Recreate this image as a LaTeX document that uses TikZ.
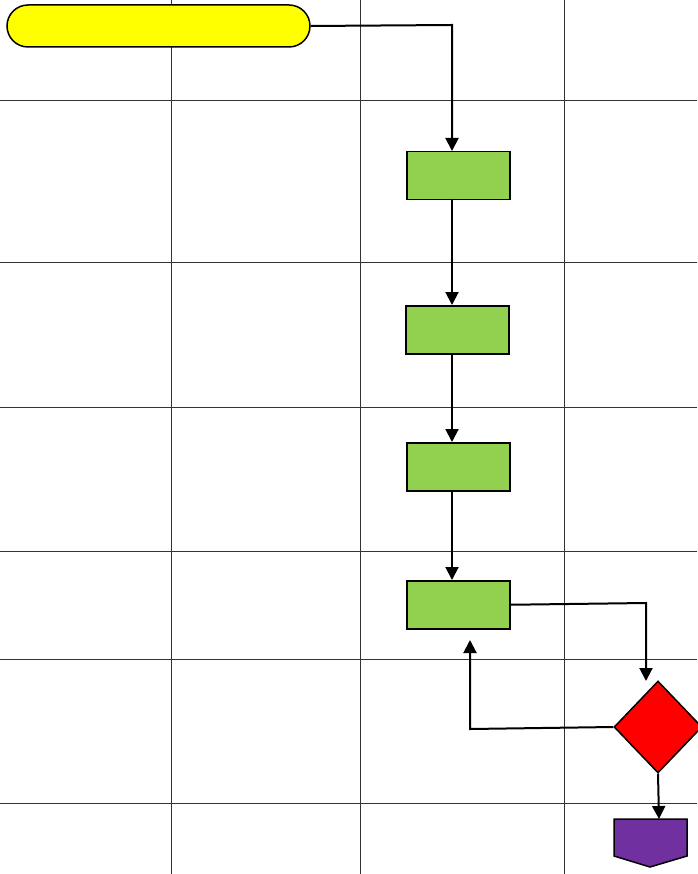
\documentclass[tikz,border=0pt]{standalone}
\usetikzlibrary{arrows.meta,shapes.geometric}
\definecolor{ylw}{HTML}{FFFF00}
\definecolor{grn}{HTML}{92D050}
\definecolor{rd}{HTML}{FF0000}
\definecolor{prp}{HTML}{7030A0}
\tikzset{
  gridline/.style={draw=black!80, line width=1pt},
  procbox/.style={draw=black, line width=1.5pt, fill=grn, minimum width=103pt, minimum height=48pt, inner sep=0pt, anchor=north west},
  conn/.style={draw=black, line width=2pt, -{Triangle[length=13pt,width=13pt]}},
  plainconn/.style={draw=black, line width=2pt},
}
\begin{document}
\begin{tikzpicture}[x=1pt,y=-1pt]
\useasboundingbox (0,0) rectangle (697,874);
\fill[white] (0,0) rectangle (697,874);
% grid
\foreach \gx in {171,360,564} \draw[gridline] (\gx,0) -- (\gx,874);
\foreach \gy in {101,263,407,551,659,803} \draw[gridline] (0,\gy) -- (697,\gy);
% start oval
\node[draw=black, line width=1.5pt, fill=ylw, rounded corners=21pt, minimum width=303pt, minimum height=42pt, inner sep=0pt] (start) at (158.5,26) {};
% boxes
\node[procbox] (b1) at (406,151) {};
\node[procbox] (b2) at (405,305) {};
\node[procbox] (b3) at (406,442) {};
\node[procbox] (b4) at (406,580) {};
% decision
\node[draw=black, line width=1.5pt, fill=rd, shape=diamond, inner sep=0pt, minimum width=88pt, minimum height=92pt] (dec) at (658,727) {};
% end shape (off-page connector)
\coordinate (endtop) at (650,819);
\filldraw[draw=black, line width=1.5pt, fill=prp] (614,819) -- (687,819) -- (687,856) -- (650,867) -- (614,856) -- cycle;
% connectors
\draw[conn] (start.east) -- (452,25) -- (452,151);
\draw[conn] (452,199) -- (452,305);
\draw[conn] (452,353) -- (452,442);
\draw[conn] (452,490) -- (452,580);
\draw[conn] (b4.east) -- (646,603) -- (646,681);
\coordinate (backtip) at (470,640);
\draw[conn] (dec.west) -- (470,729) -- (backtip);
\draw[conn] (dec.south) -- (659,819);
\end{tikzpicture}
\end{document}
